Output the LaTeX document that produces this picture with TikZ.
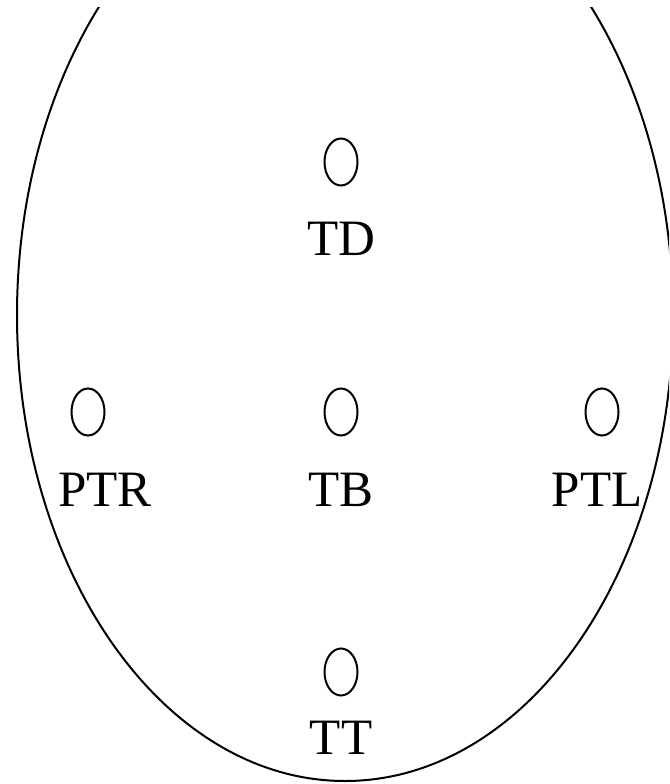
\documentclass[tikz,border=0pt]{standalone}
\usepackage{fontspec}
\setmainfont{Liberation Serif}
\usetikzlibrary{shapes.geometric}
\begin{document}
\begin{tikzpicture}[x=1pt,y=-1pt,
  electrode/.style={draw,ellipse,line width=2pt,minimum width=33pt,minimum height=47pt,inner sep=0pt},
  lbl/.style={font=\fontsize{51}{53}\selectfont,inner sep=0pt}]
\useasboundingbox (0,0) rectangle (669,784);
\begin{scope}
\clip (0,8) rectangle (669,784);
\draw[line width=2pt] (345,315) ellipse [x radius=328, y radius=466];
\end{scope}
\node[electrode] (TDc) at (341,162) {};
\node[lbl] (TD) at (341,239) {TD};
\node[electrode] (PTRc) at (88,412) {};
\node[lbl] (PTR) at (105,490) {PTR};
\node[electrode] (TBc) at (341,412) {};
\node[lbl] (TB) at (341,490) {TB};
\node[electrode] (PTLc) at (602,412) {};
\node[lbl] (PTL) at (597,490) {PTL};
\node[electrode] (TTc) at (341,672) {};
\node[lbl] (TT) at (341,738) {TT};
\end{tikzpicture}
\end{document}
